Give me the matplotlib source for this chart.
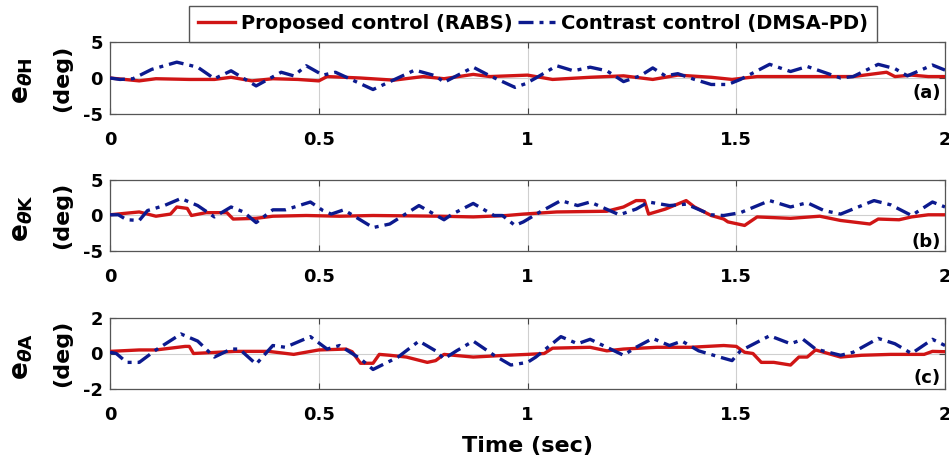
import matplotlib
matplotlib.use("Agg")
import matplotlib.pyplot as plt

plt.rcParams['font.family'] = ['DejaVu Sans']
plt.rcParams['font.weight'] = 'bold'
plt.rcParams['axes.unicode_minus'] = False
plt.rcParams['mathtext.fontset'] = 'dejavusans'

# ---- data ----
# hip (a)
t_h_rabs = [0, 0.07, 0.11, 0.19, 0.25, 0.29, 0.34, 0.39, 0.45, 0.50, 0.52, 0.60, 0.68, 0.75,
            0.80, 0.87, 0.91, 1.0, 1.06, 1.15, 1.23, 1.30, 1.36, 1.44, 1.49, 1.55, 1.70, 1.78,
            1.86, 1.88, 1.92, 1.96, 2.0]
e_h_rabs = [0, -0.4, -0.1, -0.2, -0.2, 0.1, -0.4, -0.1, -0.2, -0.4, 0.2, 0.0, -0.3, 0.2,
            -0.1, 0.5, 0.2, 0.4, -0.2, 0.1, 0.3, -0.2, 0.4, 0.1, -0.2, 0.2, 0.2, 0.2,
            0.8, 0.2, 0.4, 0.2, 0.2]
t_h_dmsa = [0, 0.024, 0.055, 0.10, 0.16, 0.21, 0.25, 0.29, 0.35, 0.41, 0.44, 0.47, 0.51, 0.54,
            0.63, 0.73, 0.78, 0.80, 0.83, 0.87, 0.91, 0.97, 0.995, 1.02, 1.07, 1.11, 1.15, 1.19,
            1.23, 1.27, 1.30, 1.33, 1.36, 1.40, 1.44, 1.48, 1.51, 1.58, 1.63, 1.67, 1.70, 1.75,
            1.78, 1.84, 1.88, 1.91, 1.97, 2.0]
e_h_dmsa = [0, -0.2, -0.1, 1.2, 2.2, 1.5, -0.1, 1.0, -1.1, 0.8, 0.3, 1.7, 0.4, 0.8,
            -1.6, 1.1, 0.3, -0.6, 0.3, 1.5, 0.3, -1.3, -0.8, 0.0, 1.7, 1.0, 1.5, 1.0,
            -0.5, 0.3, 1.4, 0.3, 0.6, -0.2, -0.9, -0.9, -0.2, 1.9, 0.9, 1.6, 1.0, 0.0,
            0.2, 1.9, 1.3, 0.3, 1.8, 1.1]

# knee (b)
t_k_rabs = [0, 0.07, 0.11, 0.145, 0.16, 0.185, 0.195, 0.23, 0.28, 0.295, 0.35, 0.39, 0.47, 0.55,
            0.63, 0.79, 0.87, 0.95, 0.99, 1.07, 1.19, 1.23, 1.26, 1.28, 1.29, 1.33, 1.38, 1.40,
            1.44, 1.47, 1.48, 1.52, 1.55, 1.63, 1.70, 1.75, 1.82, 1.84, 1.89, 1.92, 1.96, 2.0]
e_k_rabs = [0.1, 0.5, -0.1, 0.2, 1.2, 1.0, 0.0, 0.4, 0.4, -0.5, -0.4, -0.1, 0.0, -0.1,
            0.0, -0.1, -0.2, 0.0, 0.2, 0.5, 0.6, 1.2, 2.1, 2.1, 0.2, 0.9, 2.1, 1.2,
            0.0, -0.5, -0.9, -1.4, -0.2, -0.4, -0.1, -0.7, -1.2, -0.5, -0.6, -0.2, 0.1, 0.1]
t_k_dmsa = [0, 0.02, 0.04, 0.07, 0.09, 0.13, 0.17, 0.21, 0.25, 0.29, 0.32, 0.35, 0.39, 0.42,
            0.48, 0.51, 0.53, 0.56, 0.63, 0.67, 0.74, 0.80, 0.82, 0.87, 0.92, 0.94, 0.97, 0.99,
            1.03, 1.08, 1.12, 1.15, 1.22, 1.26, 1.29, 1.34, 1.38, 1.44, 1.47, 1.51, 1.58, 1.63,
            1.67, 1.71, 1.75, 1.83, 1.87, 1.92, 1.97, 2.0]
e_k_dmsa = [0.1, 0.1, -0.6, -0.7, 0.7, 1.4, 2.4, 1.4, -0.2, 1.2, 0.5, -1.0, 0.8, 0.8,
            1.9, 0.7, 0.2, 0.8, -1.7, -1.2, 1.4, -0.6, 0.2, 1.7, 0.0, 0.0, -1.4, -0.9,
            0.5, 2.1, 1.4, 1.9, 0.1, 0.9, 1.9, 1.4, 1.6, 0.1, 0.0, 0.4, 2.1, 1.2,
            1.8, 0.7, 0.2, 2.1, 1.5, 0.0, 1.9, 1.2]

# ankle (c)
t_a_rabs = [0, 0.07, 0.11, 0.18, 0.19, 0.2, 0.3, 0.38, 0.44, 0.50, 0.565, 0.58, 0.60, 0.63,
            0.645, 0.67, 0.71, 0.76, 0.78, 0.80, 0.87, 0.95, 1.0, 1.04, 1.06, 1.15, 1.19, 1.23,
            1.31, 1.39, 1.47, 1.50, 1.52, 1.54, 1.56, 1.59, 1.63, 1.65, 1.67, 1.69, 1.75, 1.80,
            1.87, 1.95, 1.97, 2.0]
e_a_rabs = [0.12, 0.2, 0.2, 0.4, 0.4, 0.0, 0.12, 0.12, -0.05, 0.2, 0.25, 0.1, -0.55, -0.55,
            -0.05, -0.1, -0.2, -0.5, -0.4, -0.05, -0.2, -0.1, -0.05, 0.0, 0.3, 0.35, 0.15, 0.25,
            0.35, 0.35, 0.45, 0.4, 0.07, 0.0, -0.5, -0.5, -0.65, -0.2, -0.2, 0.2, -0.2, -0.1,
            -0.05, -0.05, 0.12, 0.1]
t_a_dmsa = [0, 0.015, 0.04, 0.07, 0.11, 0.17, 0.21, 0.25, 0.29, 0.31, 0.35, 0.39, 0.42, 0.48,
            0.52, 0.55, 0.60, 0.63, 0.69, 0.74, 0.78, 0.80, 0.83, 0.87, 0.92, 0.96, 1.0, 1.02,
            1.08, 1.12, 1.15, 1.19, 1.23, 1.26, 1.30, 1.34, 1.37, 1.41, 1.46, 1.49, 1.51, 1.58,
            1.63, 1.66, 1.69, 1.75, 1.78, 1.84, 1.88, 1.92, 1.97, 2.0]
e_a_dmsa = [0.07, 0.0, -0.5, -0.5, 0.2, 1.1, 0.7, -0.2, 0.25, 0.25, -0.6, 0.45, 0.35, 0.95,
            0.25, 0.45, -0.3, -0.9, -0.2, 0.7, 0.15, -0.3, 0.15, 0.7, -0.1, -0.65, -0.5, -0.2,
            0.95, 0.55, 0.8, 0.35, -0.1, 0.35, 0.85, 0.45, 0.7, 0.15, -0.2, -0.4, 0.15, 1.0,
            0.55, 0.8, 0.25, -0.1, 0.07, 0.85, 0.55, 0.0, 0.8, 0.45]

x_ticks = [0, 0.5, 1, 1.5, 2]
x_tick_labels = ['0', '0.5', '1', '1.5', '2']
joints = ['H', 'K', 'A']
panel_tags = ['(a)', '(b)', '(c)']
y_limits = [5, 5, 2]
series = [(t_h_rabs, e_h_rabs, t_h_dmsa, e_h_dmsa),
          (t_k_rabs, e_k_rabs, t_k_dmsa, e_k_dmsa),
          (t_a_rabs, e_a_rabs, t_a_dmsa, e_a_dmsa)]

red = '#D01515'
blue = '#0C1A8E'

fig = plt.figure(figsize=(9.49, 4.67), dpi=100)
W, H = 949, 467
left, right = 110, 945
panel_px = [(42, 114), (180, 251), (318, 389)]
tag_y = [0.29, 0.13, 0.155]

axes = []
for i in range(3):
    top, bot = panel_px[i]
    ax = fig.add_axes([left / W, 1 - bot / H, (right - left) / W, (bot - top) / H])
    axes.append(ax)
    t1, e1, t2, e2 = series[i]
    l1, = ax.plot(t1, e1, color=red, lw=2.4, label='Proposed control (RABS)', zorder=3)
    l2, = ax.plot(t2, e2, color=blue, lw=2.4, linestyle=(0, (4.5, 1.8, 1.2, 1.8)),
                  label='Contrast control (DMSA-PD)', zorder=4)
    lim = y_limits[i]
    ax.set_xlim(0, 2)
    ax.set_ylim(-lim, lim)
    ax.set_yticks([-lim, 0, lim])
    ax.set_xticks(x_ticks)
    ax.set_xticklabels(x_tick_labels)
    ax.grid(True, color='#cfcfcf', lw=0.8)
    ax.tick_params(direction='in', length=4, width=0.8, color='#444444',
                   top=True, right=True, labelsize=13)
    ax.tick_params(axis='x', pad=12)
    ax.tick_params(axis='y', pad=5)
    for s in ax.spines.values():
        s.set_color('#555555')
        s.set_linewidth(0.9)
    ax.text(0.995, tag_y[i], panel_tags[i], transform=ax.transAxes, ha='right',
            va='center', fontsize=13, fontweight='bold')
    ax.text(-0.105, 0.46, r'$\mathbf{e}_{\theta\mathbf{%s}}$' % joints[i],
            transform=ax.transAxes, rotation=90, ha='center', va='center', fontsize=19)
    ax.text(-0.0575, 0.5, '(deg)', transform=ax.transAxes, rotation=90,
            ha='center', va='center', fontsize=16, fontweight='bold')
    if i == 0:
        handles = [l1, l2]

axes[2].set_xlabel('Time (sec)', fontsize=16, fontweight='bold', labelpad=9)

fig.legend(handles=handles, loc='lower center', bbox_to_anchor=(533 / W, 1 - 42 / H),
           ncol=2, fontsize=14, frameon=True, fancybox=False, edgecolor='#555555',
           framealpha=1, handlelength=1.9, handletextpad=0.3, columnspacing=0.3,
           borderpad=0.45, borderaxespad=0)

fig.savefig('out.png', dpi=100)
